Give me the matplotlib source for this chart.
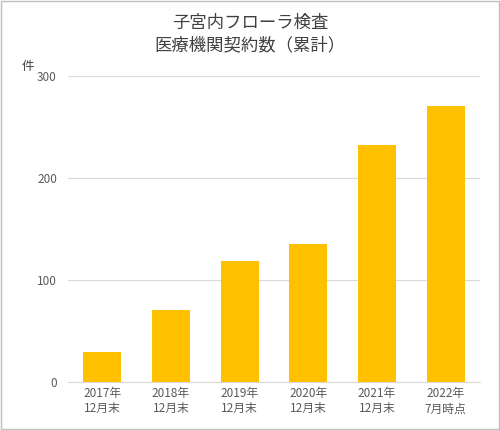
import matplotlib
matplotlib.use("Agg")
import matplotlib.pyplot as plt
from matplotlib.patches import Rectangle

plt.rcParams['font.family'] = ['Noto Sans CJK JP', 'DejaVu Sans']

categories = ["2017年\n12月末", "2018年\n12月末", "2019年\n12月末", "2020年\n12月末", "2021年\n12月末", "2022年\n7月時点"]
values = [29, 70, 118, 135, 232, 270]
yticks = [0, 100, 200, 300]

fig = plt.figure(figsize=(5.0, 4.3), dpi=100)
ax = fig.add_axes([0.136, 0.112, 0.824, 0.712])
ax.bar(range(len(values)), values, width=0.55, color="#FFC000", zorder=3)
ax.set_ylim(0, 300)
ax.set_xlim(-0.5, len(values) - 0.5)
ax.set_yticks(yticks)
ax.set_xticks(range(len(values)))
ax.set_xticklabels(categories, fontsize=8.5, color="#595959", linespacing=1.2)
ax.tick_params(axis='y', labelsize=8.5, colors="#595959", length=0, pad=8)
ax.tick_params(axis='x', length=0, pad=4)
ax.grid(axis='y', color="#D9D9D9", linewidth=0.8, zorder=0)
for s in ["top", "right", "left"]:
    ax.spines[s].set_visible(False)
ax.spines["bottom"].set_color("#D9D9D9")
fig.text(0.5, 0.92, "子宮内フローラ検査\n医療機関契約数（累計）", ha="center", va="center",
         fontsize=12.5, color="#404040", linespacing=1.3)
fig.text(0.055, 0.838, "件", fontsize=9, color="#404040", ha="center")
fig.patches.append(Rectangle((0.002, 0.002), 0.996, 0.996, transform=fig.transFigure,
                             fill=False, edgecolor="#BFBFBF", linewidth=1))
fig.savefig("out.png", dpi=100)
